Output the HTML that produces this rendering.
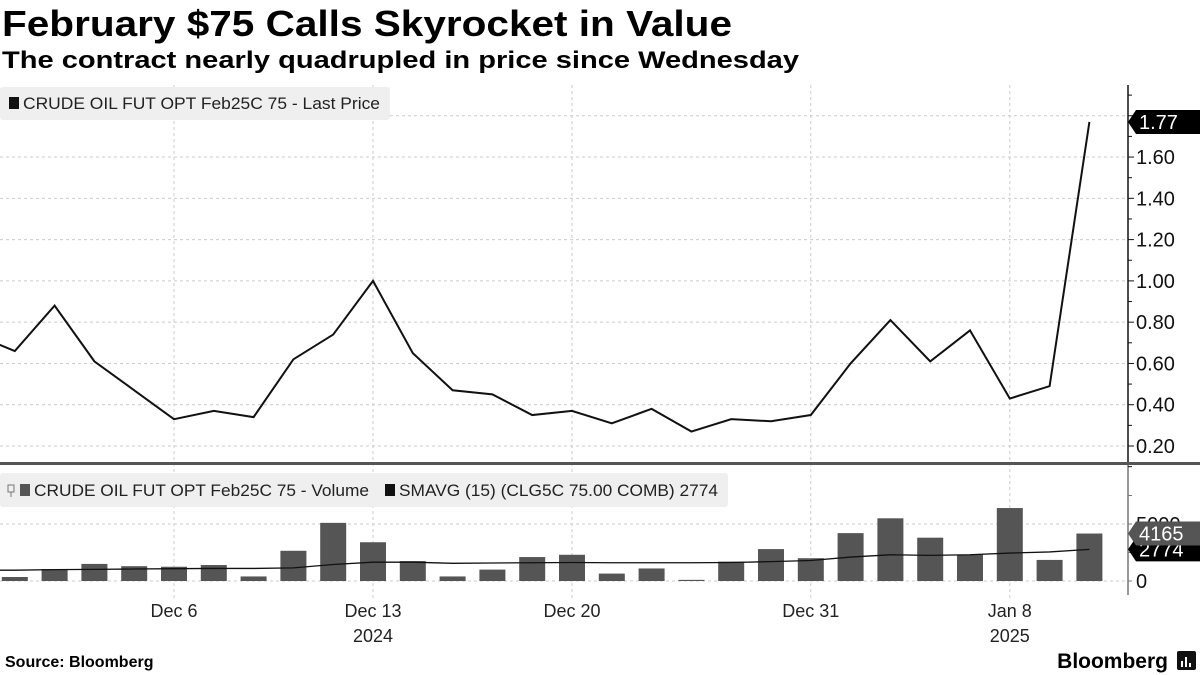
<!DOCTYPE html>
<html><head><meta charset="utf-8"><style>
body{margin:0;background:#fff;width:1200px;height:675px;overflow:hidden}
svg{display:block;font-family:"Liberation Sans Narrow","Liberation Sans",sans-serif}
</style></head><body>
<svg id="c" width="1200" height="675" xmlns="http://www.w3.org/2000/svg">
<text x="2" y="36" font-family="Liberation Sans, sans-serif" font-weight="bold" font-size="36" textLength="730" lengthAdjust="spacingAndGlyphs">February $75 Calls Skyrocket in Value</text>
<text x="2" y="68" font-family="Liberation Sans, sans-serif" font-weight="bold" font-size="24" textLength="797" lengthAdjust="spacingAndGlyphs">The contract nearly quadrupled in price since Wednesday</text>
<g id="grid"></g>
<rect x="0" y="87" width="390" height="33" rx="3" fill="#efefef"/>
<rect x="9" y="97" width="10" height="12" fill="#111"/>
<text x="23" y="109" font-size="17" fill="#222" textLength="357" lengthAdjust="spacingAndGlyphs">CRUDE OIL FUT OPT Feb25C 75 - Last Price</text>
<rect x="0" y="473" width="728" height="34" rx="3" fill="#efefef"/>
<path d="M8 485 h6 v7 h-6 z M11 492 v5" fill="none" stroke="#777" stroke-width="1"/>
<rect x="20" y="484" width="10" height="12" fill="#555"/>
<text x="34" y="496" font-size="17" fill="#222" textLength="335" lengthAdjust="spacingAndGlyphs">CRUDE OIL FUT OPT Feb25C 75 - Volume</text>
<rect x="385" y="484" width="10" height="12" fill="#111"/>
<text x="399" y="496" font-size="17" fill="#222" textLength="319" lengthAdjust="spacingAndGlyphs">SMAVG (15) (CLG5C 75.00 COMB) 2774</text>
<g id="marks"></g>
<rect x="0" y="462" width="1200" height="3" fill="#555"/>
<g id="axes"></g>
<text x="5" y="667" font-family="Liberation Sans, sans-serif" font-weight="bold" font-size="16">Source: Bloomberg</text>
<text x="1168" y="668" text-anchor="end" font-family="Liberation Sans, sans-serif" font-weight="bold" font-size="21">Bloomberg</text>
<rect x="1177" y="651" width="19" height="19" rx="2" fill="#111"/>
<rect x="1181" y="661" width="2" height="6" fill="#fff"/><rect x="1185" y="657" width="2" height="10" fill="#fff"/><rect x="1189" y="663" width="2" height="4" fill="#fff"/>
</svg>
<script>
const dates=["Nov 29","Dec 2","Dec 3","Dec 4","Dec 5","Dec 6","Dec 9","Dec 10","Dec 11","Dec 12","Dec 13","Dec 16","Dec 17","Dec 18","Dec 19","Dec 20","Dec 23","Dec 24","Dec 26","Dec 27","Dec 30","Dec 31","Jan 2","Jan 3","Jan 6","Jan 7","Jan 8","Jan 9","Jan 10"];
const price=[0.74,0.66,0.88,0.61,0.47,0.33,0.37,0.34,0.62,0.74,1.00,0.65,0.47,0.45,0.35,0.37,0.31,0.38,0.27,0.33,0.32,0.35,0.60,0.81,0.61,0.76,0.43,0.49,1.77];
const volume=[300,350,1050,1500,1300,1250,1400,400,2650,5100,3400,1750,400,1000,2100,2300,650,1100,100,1700,2800,2000,4200,5500,3800,2300,6400,1850,4165];
const sma=[950,950,1000,1020,1050,1080,1100,1100,1150,1450,1650,1650,1550,1580,1600,1620,1600,1600,1600,1620,1700,1800,2100,2300,2250,2300,2450,2550,2774];
const priceTicks=[0.20,0.40,0.60,0.80,1.00,1.20,1.40,1.60];
const xLabels=[["Dec 6",5],["Dec 13",10],["Dec 20",15],["Dec 31",21],["Jan 8",26]];
const yearLabels=[["2024",10],["2025",26]];
const NS="http://www.w3.org/2000/svg";
const X=i=>-25+i*39.8;
const YP=v=>446-(v-0.2)*206.4;
const YV=v=>581-v*57/5000;
function mk(p,t,a){const e=document.createElementNS(NS,t);for(const k in a)e.setAttribute(k,a[k]);document.getElementById(p).appendChild(e);return e;}
priceTicks.forEach(v=>{const g=mk('grid','line',{x1:0,x2:1128,y1:YP(v),y2:YP(v),stroke:'#ccc','stroke-dasharray':'3,3'});

});
mk('grid','line',{x1:0,x2:1128,y1:YP(1.8),y2:YP(1.8),stroke:'#ccc','stroke-dasharray':'3,3'});
[0,5000].forEach(v=>{const g=mk('grid','line',{x1:0,x2:1128,y1:YV(v),y2:YV(v),stroke:'#ccc','stroke-dasharray':'3,3'});

});
xLabels.forEach(([l,i])=>{const g=mk('grid','line',{x1:X(i),x2:X(i),y1:85,y2:598,stroke:'#ccc','stroke-dasharray':'3,3'});


const t=mk('axes','text',{x:X(i),y:617,'text-anchor':'middle','font-size':'18',fill:'#222'});t.textContent=l;

});
yearLabels.forEach(([l,i])=>{const t=mk('axes','text',{x:X(i),y:642,'text-anchor':'middle','font-size':'18',fill:'#222'});t.textContent=l;

});
volume.forEach((v,i)=>{const b=mk('marks','rect',{x:X(i)-13,y:YV(v),width:26,height:YV(0)-YV(v),fill:'#555'});

});
const sl=mk('marks','polyline',{points:sma.map((v,i)=>X(i)+','+YV(v)).join(' '),fill:'none',stroke:'#111','stroke-width':1.3});


const pl=mk('marks','polyline',{points:price.map((v,i)=>X(i)+','+YP(v)).join(' '),fill:'none',stroke:'#111','stroke-width':2});


mk('axes','line',{x1:1128,x2:1128,y1:85,y2:462,stroke:'#111','stroke-width':1.5});
mk('axes','line',{x1:1128,x2:1128,y1:465,y2:595,stroke:'#777','stroke-width':1.5});
for(let v=0.1;v<1.95;v+=0.1){const maj=Math.abs(Math.round(v*10)%2)===0;mk('axes','line',{x1:1128,x2:maj?1134:1132,y1:YP(v),y2:YP(v),stroke:'#111'});}
priceTicks.forEach(v=>{const t=mk('axes','text',{x:1136,y:YP(v)+7,'font-size':'20',fill:'#111'});t.textContent=v.toFixed(2);

});
[0,2500,5000,7500].forEach(v=>mk('axes','line',{x1:1128,x2:1132,y1:YV(v),y2:YV(v),stroke:'#777'}));
[0,5000].forEach(v=>{const t=mk('axes','text',{x:1136,y:YV(v)+7,'font-size':'20',fill:'#111'});t.textContent=String(v);

});
function tag(y,txt,fill,name){const g=mk('axes','g',{});


const e=document.createElementNS(NS,'path');e.setAttribute('d',`M1128 ${y} L1136 ${y-12} L1200 ${y-12} L1200 ${y+12} L1136 ${y+12} Z`);e.setAttribute('fill',fill);g.appendChild(e);
const t=document.createElementNS(NS,'text');t.setAttribute('x',1139);t.setAttribute('y',y+7);t.setAttribute('font-size','20');t.setAttribute('fill','#fff');t.textContent=txt;g.appendChild(t);}
tag(YV(sma[sma.length-1]),String(sma[sma.length-1]),'#000','sma-last-tag');
tag(YV(volume[volume.length-1]),String(volume[volume.length-1]),'#555','volume-last-tag');
tag(YP(price[price.length-1]),price[price.length-1].toFixed(2),'#000','price-last-tag');
</script>
</body></html>
